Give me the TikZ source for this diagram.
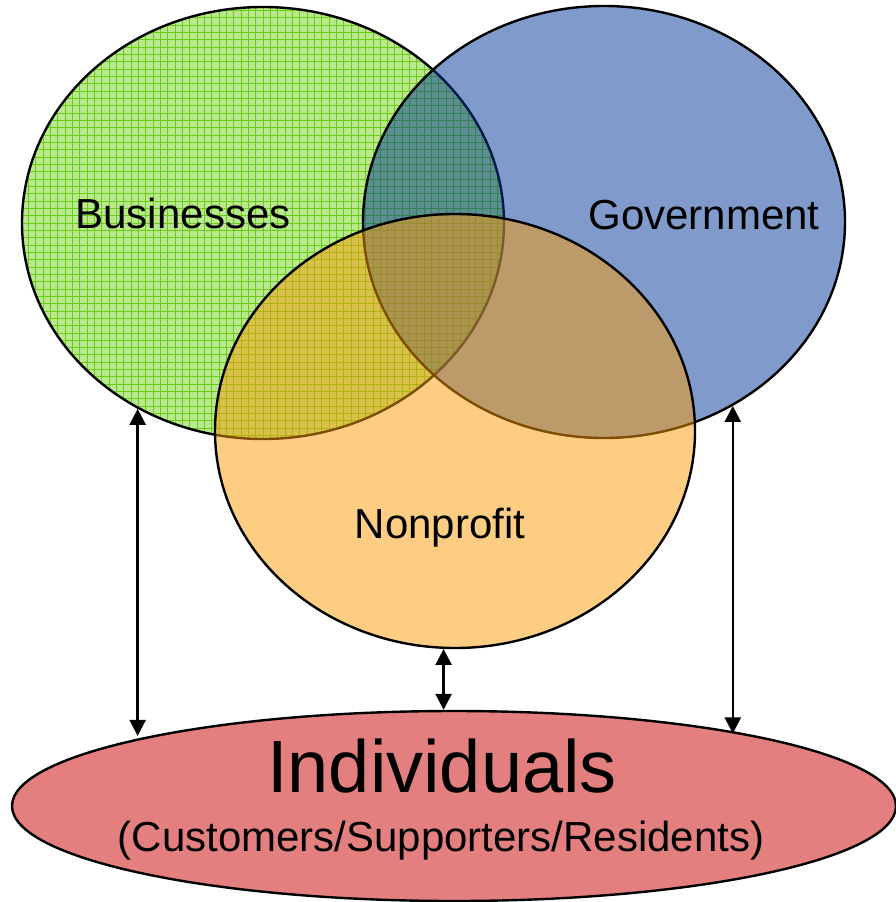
\documentclass[tikz,border=0pt]{standalone}
\usepackage{fontspec}
\setmainfont{Liberation Sans}
\usetikzlibrary{shapes.geometric,arrows.meta}
\definecolor{gbg}{RGB}{186,232,142}
\definecolor{ggrid}{RGB}{106,204,20}
\definecolor{govc}{RGB}{0,53,151}
\definecolor{npoc}{RGB}{251,155,9}
\definecolor{indc}{RGB}{228,127,127}
\begin{document}
\begin{tikzpicture}[x=1pt,y=-1pt,
  venn/.style={ellipse, inner sep=0pt, line width=2.4pt, draw=black},
  lbl/.style={font=\fontsize{42}{50}\selectfont, anchor=base, inner sep=0pt},
  biglbl/.style={font=\fontsize{74}{84}\selectfont, anchor=base, inner sep=0pt},
  link/.style={line width=2.4pt, {Triangle[length=16pt,width=16pt]}-{Triangle[length=16pt,width=16pt]}}]
\useasboundingbox (0,0) rectangle (896,902);
% Businesses (patterned green)
\node[venn, minimum width=482pt, minimum height=432pt, path picture={
  \fill[gbg] (path picture bounding box.south west) rectangle (path picture bounding box.north east);
  \draw[ggrid, line width=0.9pt, step=7.33pt] (path picture bounding box.south west) grid (path picture bounding box.north east);}] (bus) at (263,223) {};
% Government
\node[venn, fill=govc, fill opacity=0.5, draw opacity=1, minimum width=482pt, minimum height=432pt] (gov) at (604,222) {};
% Nonprofit
\node[venn, fill=npoc, fill opacity=0.5, draw opacity=1, minimum width=480pt, minimum height=434pt] (npo) at (455,431) {};
% Individuals
\node[venn, fill=indc, minimum width=884pt, minimum height=190pt] (ind) at (454,806) {};
% labels
\node[lbl] (tbus) at (183,228) {Businesses};
\node[lbl] (tgov) at (704,229) {Government};
\node[lbl] (tnpo) at (440,538) {Nonprofit};
\node[biglbl] (tind) at (442,792) {Individuals};
\node[lbl] (tsub) at (441,851) {(Customers/Supporters/Residents)};
% connectors
\draw[link] (bus.236.8) -- (bus.236.8 |- ind.167.9);
\draw[link] (npo.267.6) -- (npo.267.6 |- ind.94.8);
\draw[link] (gov.305.3) -- (gov.305.3 |- ind.14.8);
\end{tikzpicture}
\end{document}
